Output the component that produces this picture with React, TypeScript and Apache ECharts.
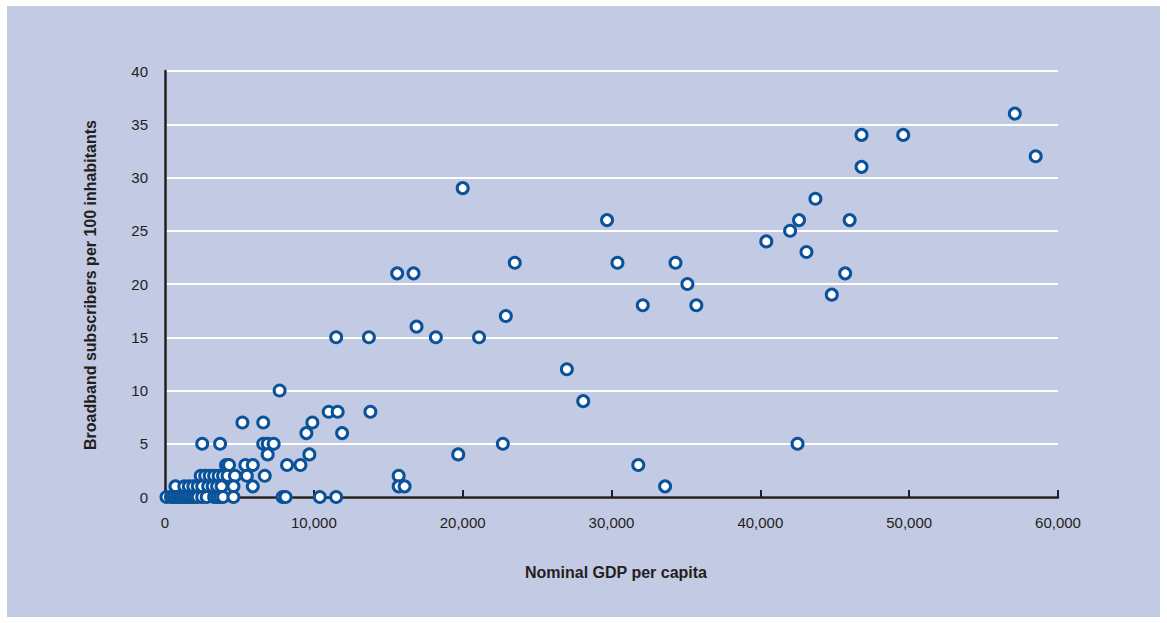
import React, { useEffect, useRef } from "react";
import * as echarts from "echarts";

// Nominal GDP per capita (USD) and broadband subscribers per 100 inhabitants
const gdpPerCapita: number[] = [
  57100, 58500, 46800, 49600, 46800, 43700, 42600, 46000, 42000, 40400, 43100, 45700, 44800, 42500,
  29700, 30400, 34300, 35100, 32100, 35700, 27000, 28100, 31800, 33600,
  20000, 15600, 16700, 23500, 13700, 16900, 18200, 21100, 22900, 11500, 13800, 19700, 22700,
  11900, 15700, 15700, 16100,
  7700, 5200, 6600, 11000, 11600, 9900, 9500,
  6600, 6900, 7300, 2500, 3700, 6900, 9700,
  4100, 4300, 5400, 5900, 8200, 9100,
  2400, 2700, 3000, 3300, 3600, 3900, 4200, 4700, 5500, 6700,
  700, 1300, 1600, 1900, 2200, 2500, 2900, 3200, 3500, 3800, 4600, 5900,
  100, 400, 600, 800, 1000, 1200, 1400, 1600, 1800, 2000, 2200, 2500, 2800, 3300, 3500, 3700, 3900, 4600,
  7900, 8100, 10400, 11500,
];
const broadband: number[] = [
  36, 32, 34, 34, 31, 28, 26, 26, 25, 24, 23, 21, 19, 5,
  26, 22, 22, 20, 18, 18, 12, 9, 3, 1,
  29, 21, 21, 22, 15, 16, 15, 15, 17, 15, 8, 4, 5,
  6, 2, 1, 1,
  10, 7, 7, 8, 8, 7, 6,
  5, 5, 5, 5, 5, 4, 4,
  3, 3, 3, 3, 3, 3,
  2, 2, 2, 2, 2, 2, 2, 2, 2, 2,
  1, 1, 1, 1, 1, 1, 1, 1, 1, 1, 1, 1,
  0, 0, 0, 0, 0, 0, 0, 0, 0, 0, 0, 0, 0, 0, 0, 0, 0, 0,
  0, 0, 0, 0,
];

const xTitle = "Nominal GDP per capita";
const yTitle = "Broadband subscribers per 100 inhabitants";

const FONT = "'Liberation Sans Narrow', 'Arial Narrow', 'Liberation Sans', Arial, sans-serif";
const INK = "#231f20";

export default function App() {
  const ref = useRef<HTMLDivElement>(null);
  useEffect(() => {
    if (!ref.current) return;
    const chart = echarts.init(ref.current, undefined, { renderer: "svg" });
    const data = gdpPerCapita.map((x, i) => [x, broadband[i]]);
    chart.setOption({
      animation: false,
      backgroundColor: "#ffffff",
      graphic: [
        { type: "rect", z: -10, shape: { x: 7, y: 6, width: 1153, height: 611 }, style: { fill: "#c3cae3" } },
        {
          type: "text",
          x: 616,
          y: 572,
          style: { text: xTitle, font: `bold 16px ${FONT}`, fill: INK, textAlign: "center", textVerticalAlign: "middle" },
        },
        {
          type: "text",
          x: 90,
          y: 285,
          rotation: Math.PI / 2,
          style: { text: yTitle, font: `bold 16px ${FONT}`, fill: INK, textAlign: "center", textVerticalAlign: "middle" },
        },
      ],
      grid: { left: 165, right: 109, top: 71, bottom: 126, containLabel: false },
      xAxis: {
        type: "value",
        min: 0,
        max: 60000,
        interval: 10000,
        axisLine: { show: true, lineStyle: { color: INK, width: 2.5 } },
        axisTick: { show: true, inside: true, length: 7, lineStyle: { color: INK, width: 2 } },
        splitLine: { show: false },
        axisLabel: {
          margin: 18,
          color: INK,
          fontSize: 15,
          fontFamily: FONT,
          formatter: (v: number) => v.toLocaleString("en-US"),
        },
      },
      yAxis: {
        type: "value",
        min: 0,
        max: 40,
        interval: 5,
        axisLine: { show: true, lineStyle: { color: INK, width: 2.5 } },
        axisTick: { show: false },
        splitLine: { show: true, lineStyle: { color: "#ffffff", width: 2 } },
        axisLabel: { margin: 17, color: INK, fontSize: 15, fontFamily: FONT },
      },
      series: [
        {
          type: "scatter",
          data,
          symbol: "circle",
          symbolSize: 11,
          itemStyle: { color: "#ffffff", borderColor: "#0a5299", borderWidth: 3, opacity: 1 },
        },
      ],
    });
    return () => chart.dispose();
  }, []);
  return <div ref={ref} style={{ position: "fixed", left: 0, top: 0, width: 1167, height: 623 }} />;
}
